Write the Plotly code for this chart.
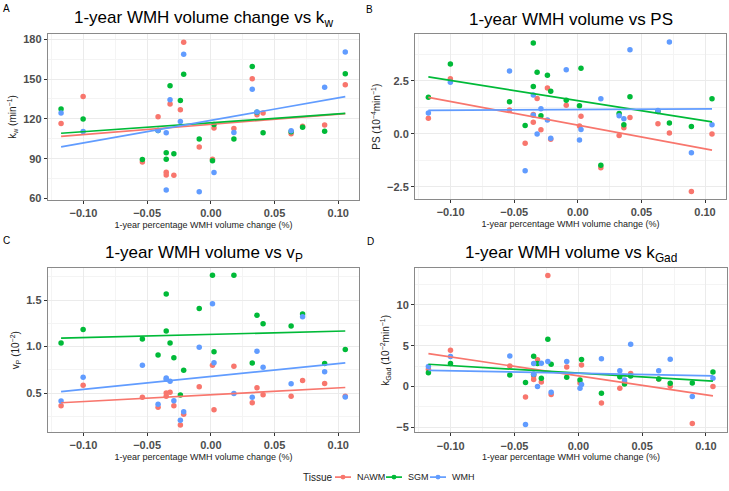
import numpy as np
import plotly.graph_objects as go

W, H = 729, 491

# ---- data ----
x_change = [-0.1175, -0.1002, -0.0537, -0.0414, -0.0350, -0.0350, -0.0320, -0.0290, -0.0239, -0.0213,
            -0.0091, 0.0013, 0.0025, 0.0181, 0.0325, 0.0362, 0.0410, 0.0630, 0.0720, 0.0893, 0.1055]

kw_nawm = [116.5, 136.9, 87.5, 121.7, 79.8, 77.8, 131.2, 77.6, 126.9, 177.8, 98.9, 89.7, 113.1, 112.8,
           150.2, 123.2, 124.5, 108.8, 114.5, 115.5, 145.8]
kw_sgm = [127.4, 120.0, 89.5, 111.3, 94.5, 89.7, 145.0, 93.7, 133.9, 153.7, 104.9, 88.5, 115.8, 104.9,
          159.4, 125.0, 109.6, 110.3, 113.8, 110.8, 154.0]
kw_wmh = [124.5, 110.6, None, 111.3, 109.6, 66.4, 134.4, None, 118.0, 168.6, 65.2, None, 79.6, 109.8,
          142.3, 125.2, None, 111.1, None, 143.8, 170.3]

ps_nawm = [0.73, 2.59, 1.12, -0.45, 0.54, 0.90, 1.66, 0.19, 2.16, -0.26, 1.34, 0.36, 0.82, -1.60,
           -0.08, 0.28, 0.76, 0.47, 0.03, -2.72, -0.02]
ps_sgm = [1.72, 3.29, 1.51, 0.39, 4.27, 2.22, 2.90, 0.85, 2.76, 2.00, 1.58, 1.32, 3.09, -1.49,
          0.95, 0.42, 1.74, 1.05, 0.51, 0.34, 1.65]
ps_wmh = [0.98, 2.42, 2.95, -1.75, 1.82, 0.87, -0.02, 1.18, 0.64, -0.22, 3.01, -0.30, 0.20, 1.65,
          0.85, 0.70, 3.96, 1.09, 4.32, -0.90, 0.42]

vp_nawm = [0.365, 0.585, 0.454, 0.348, 0.465, 0.500, 0.510, 0.365, 0.156, 0.273, 0.567, 0.800, 0.320,
           0.787, 0.397, 0.557, 0.482, 0.465, 0.635, 0.603, 0.465]
vp_sgm = [1.039, 1.184, 1.080, 0.908, 1.564, 1.167, 1.039, 0.879, 0.479, 0.745, 1.410, 1.766, 0.943,
          1.766, 0.823, 1.337, 1.245, 1.220, 1.351, 0.819, 0.968]
vp_wmh = [0.415, 0.670, 0.798, 0.379, 0.663, 0.649, 0.628, 0.418, 0.209, 0.298, 0.993, 1.461, 0.826,
          0.496, 0.454, 0.950, 0.777, 0.600, 1.320, 0.730, 0.457]

kgad_nawm = [2.10, 4.44, 2.50, -1.29, 0.85, 1.30, 3.27, 0.56, 13.60, -0.97, 2.38, 0.44, 2.62, -2.02,
             -0.20, 0.60, 1.60, 0.93, 0.04, -4.52, 0.00]
kgad_sgm = [1.70, 2.82, 1.41, 0.48, 3.71, 1.50, 2.82, 1.00, 5.80, 2.74, 1.13, 0.81, 3.31, -0.81,
            1.21, 0.32, 1.30, 0.93, 0.40, 0.44, 1.77]
kgad_wmh = [2.46, 3.67, 3.75, -4.64, 2.82, 1.50, 0.00, 2.86, 3.06, -0.69, 3.06, -0.20, 0.24, 3.39,
            1.94, 0.81, 5.16, 1.94, 3.35, -1.21, 1.00]

tissues = ["NAWM", "SGM", "WMH"]
colors = {"NAWM": "#F8766D", "SGM": "#00BA38", "WMH": "#619CFF"}

panels = [
    dict(letter="A", title="1-year WMH volume change vs k<sub>w</sub>",
         ytitle="k<sub>w</sub> (min<sup>−1</sup>)", series=[kw_nawm, kw_sgm, kw_wmh],
         yrange=[59.3, 183.7], dtick=30, fmt=".0f"),
    dict(letter="B", title="1-year WMH volume vs PS",
         ytitle="PS (10<sup>−4</sup>min<sup>−1</sup>)", series=[ps_nawm, ps_sgm, ps_wmh],
         yrange=[-3.09, 4.686], dtick=2.5, fmt=".1f"),
    dict(letter="C", title="1-year WMH volume vs v<sub>P</sub>",
         ytitle="v<sub>P</sub> (10<sup>−2</sup>)", series=[vp_nawm, vp_sgm, vp_wmh],
         yrange=[0.082, 1.84], dtick=0.5, fmt=".1f"),
    dict(letter="D", title="1-year WMH volume vs k<sub>Gad</sub>",
         ytitle="k<sub>Gad</sub> (10<sup>−2</sup>min<sup>−1</sup>)", series=[kgad_nawm, kgad_sgm, kgad_wmh],
         yrange=[-5.61, 14.46], dtick=5, fmt=".0f"),
]

# pixel frames of panels: (left, right, top, bottom)
frames = [(47.7, 359.3, 33.7, 201.0), (415.0, 726.0, 33.7, 200.7),
          (47.7, 359.3, 270.7, 436.3), (415.0, 727.0, 270.7, 436.7)]
letter_pos = [(6, 8), (369, 9), (6, 242), (370, 243)]

FONT = "Arial, Liberation Sans, sans-serif"
fig = go.Figure()
layout = dict(width=W, height=H, margin=dict(l=0, r=0, t=0, b=0), plot_bgcolor="white",
              paper_bgcolor="white", font=dict(family=FONT), showlegend=False)
annotations = []
shapes = []

xarr = np.array(x_change)
for i, (p, fr) in enumerate(zip(panels, frames)):
    n = i + 1
    xa = "x" if n == 1 else f"x{n}"
    ya = "y" if n == 1 else f"y{n}"
    l, r, t, b = fr
    axis_common = dict(showline=True, mirror=True, linecolor="#8a8a8a", linewidth=1,
                       showgrid=True, gridcolor="#EBEBEB", gridwidth=1, zeroline=False,
                       ticks="outside", ticklen=3, tickcolor="#333333",
                       tickfont=dict(family=FONT, size=11, color="#4D4D4D", weight="bold"))
    layout["xaxis" if n == 1 else f"xaxis{n}"] = dict(
        axis_common, domain=[l / W, r / W], anchor=ya, range=[-0.128, 0.1165],
        tick0=0, dtick=0.05, tickformat=".2f",
        minor=dict(showgrid=True, gridcolor="#F4F4F4", dtick=0.025, tick0=0),
        title=dict(text="1-year percentage WMH volume change (%)", font=dict(size=9, color="#222"),
                   standoff=3))
    layout["yaxis" if n == 1 else f"yaxis{n}"] = dict(
        axis_common, domain=[1 - b / H, 1 - t / H], anchor=xa, range=p["yrange"],
        tick0=0, dtick=p["dtick"], tickformat=p["fmt"],
        minor=dict(showgrid=True, gridcolor="#F4F4F4", dtick=p["dtick"] / 2, tick0=0),
        title=dict(text=p["ytitle"], font=dict(size=10, color="#222"), standoff=4))
    # points
    for tis, ys in zip(tissues, p["series"]):
        fig.add_trace(go.Scatter(x=x_change, y=ys, mode="markers", xaxis=xa, yaxis=ya,
                                 marker=dict(color=colors[tis], size=5.5), hoverinfo="skip"))
    # linear fits (lm per tissue)
    for tis, ys in zip(tissues, p["series"]):
        yv = np.array([np.nan if v is None else v for v in ys], dtype=float)
        ok = ~np.isnan(yv)
        slope, inter = np.polyfit(xarr[ok], yv[ok], 1)
        xs = np.array([xarr[ok].min(), xarr[ok].max()])
        fig.add_trace(go.Scatter(x=xs, y=slope * xs + inter, mode="lines", xaxis=xa, yaxis=ya,
                                 line=dict(color=colors[tis], width=1.7), hoverinfo="skip"))
    annotations.append(dict(text=p["title"], xref="paper", yref="paper",
                            x=((l + r) / 2) / W, y=1 - (t - 15) / H, xanchor="center", yanchor="middle",
                            showarrow=False, font=dict(size=17, color="black")))
    lx, ly = letter_pos[i]
    annotations.append(dict(text=p["letter"], xref="paper", yref="paper", x=lx / W, y=1 - ly / H,
                            xanchor="center", yanchor="middle", showarrow=False,
                            font=dict(size=10, color="black")))

# ---- legend (drawn as a key below the panels) ----
LEG_Y = 482
leg_items = [("NAWM", 335), ("SGM", 386), ("WMH", 430)]
annotations.append(dict(text="Tissue", xref="paper", yref="paper", x=301 / W, y=1 - LEG_Y / H,
                        xanchor="left", yanchor="middle", showarrow=False,
                        font=dict(size=10, color="#222")))
for tis, kx in leg_items:
    c = colors[tis]
    shapes.append(dict(type="line", xref="paper", yref="paper", x0=kx / W, x1=(kx + 16) / W,
                       y0=1 - LEG_Y / H, y1=1 - LEG_Y / H, line=dict(color=c, width=1.7)))
    shapes.append(dict(type="circle", xref="paper", yref="paper", x0=(kx + 5.5) / W, x1=(kx + 10.5) / W,
                       y0=1 - (LEG_Y + 2.5) / H, y1=1 - (LEG_Y - 2.5) / H,
                       fillcolor=c, line=dict(color=c, width=0)))
    annotations.append(dict(text=tis, xref="paper", yref="paper", x=(kx + 20) / W, y=1 - LEG_Y / H,
                            xanchor="left", yanchor="middle", showarrow=False,
                            font=dict(size=9, color="#222")))

layout["annotations"] = annotations
layout["shapes"] = shapes
fig.update_layout(**layout)
fig.write_html("out.html")
